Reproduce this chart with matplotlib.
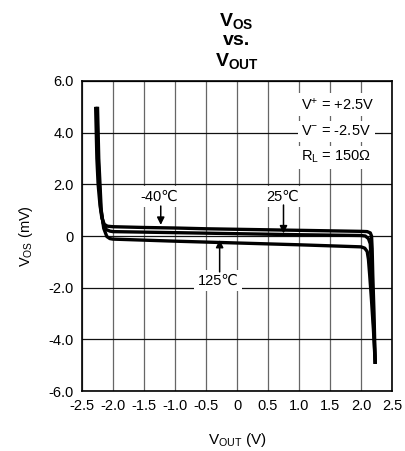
import matplotlib
matplotlib.use("Agg")
import matplotlib.pyplot as plt

plt.rcParams['font.family'] = ['Liberation Sans', 'DejaVu Sans']
plt.rcParams['mathtext.fontset'] = 'custom'
plt.rcParams['mathtext.rm'] = 'Liberation Sans'
plt.rcParams['mathtext.it'] = 'Liberation Sans:italic'
plt.rcParams['mathtext.bf'] = 'Liberation Sans:bold'

#%% data
x_m40 = [-2.28, -2.27, -2.26, -2.24, -2.21, -2.18, -2.14, -2.09, -2.0, -1.5, -1.0, -0.5, 0.0, 0.5, 1.0, 1.5, 2.0, 2.10, 2.15, 2.17, 2.18, 2.19, 2.21, 2.23]
y_m40 = [5.0, 4.0, 3.0, 2.0, 1.2, 0.7, 0.45, 0.38, 0.36, 0.33, 0.31, 0.28, 0.26, 0.24, 0.22, 0.20, 0.18, 0.17, 0.12, 0.0, -0.5, -1.5, -3.0, -4.95]

x_25 = [-2.26, -2.25, -2.24, -2.22, -2.20, -2.16, -2.11, -2.05, -2.0, -1.0, 0.0, 1.0, 2.0, 2.07, 2.12, 2.15, 2.16, 2.18, 2.20, 2.23]
y_25 = [5.0, 4.0, 3.0, 2.0, 1.1, 0.5, 0.25, 0.19, 0.17, 0.13, 0.09, 0.05, 0.02, 0.0, -0.1, -0.3, -0.8, -1.8, -3.2, -4.95]

x_125 = [-2.25, -2.24, -2.23, -2.21, -2.19, -2.15, -2.10, -2.05, -2.0, -1.0, 0.0, 1.0, 2.0, 2.06, 2.10, 2.12, 2.14, 2.17, 2.20, 2.23]
y_125 = [5.0, 4.0, 3.0, 2.0, 1.0, 0.3, -0.02, -0.10, -0.12, -0.20, -0.27, -0.34, -0.42, -0.47, -0.6, -0.9, -1.5, -2.5, -3.6, -4.95]

xticks = [-2.5, -2.0, -1.5, -1.0, -0.5, 0.0, 0.5, 1.0, 1.5, 2.0, 2.5]
xticklabels = ['-2.5', '-2.0', '-1.5', '-1.0', '-0.5', '0', '0.5', '1.0', '1.5', '2.0', '2.5']
yticks = [-6.0, -4.0, -2.0, 0.0, 2.0, 4.0, 6.0]
yticklabels = ['-6.0', '-4.0', '-2.0', '0', '2.0', '4.0', '6.0']

conditions = [r'$\mathrm{V^{+}}$ = +2.5V', r'$\mathrm{V^{-}}$ = -2.5V', r'$\mathrm{R_L}$ = 150Ω']
cond_y = [5.1, 4.05, 3.05]

#%% figure
fig = plt.figure(figsize=(4.06, 4.51), dpi=100)
ax = fig.add_axes([0.202, 0.133, 0.7635, 0.6874])

for xs, ys in [(x_m40, y_m40), (x_25, y_25), (x_125, y_125)]:
    ax.plot(xs, ys, color='black', lw=2.4, solid_capstyle='butt', solid_joinstyle='round', zorder=3)

ax.set_xlim(-2.5, 2.5)
ax.set_ylim(-6.0, 6.0)
ax.set_xticks(xticks)
ax.set_xticklabels(xticklabels)
ax.set_yticks(yticks)
ax.set_yticklabels(yticklabels)
ax.tick_params(length=0, labelsize=10.5, colors='black')
ax.tick_params(axis='x', pad=6)
ax.tick_params(axis='y', pad=6)
ax.xaxis.grid(True, color='#666666', lw=0.9)
ax.yaxis.grid(True, color='#111111', lw=0.9)
ax.set_axisbelow(True)
for s in ax.spines.values():
    s.set_linewidth(1.2)

ax.set_xlabel(r'$\mathrm{V_{OUT}}$ (V)', fontsize=11, labelpad=13)
ax.set_ylabel(r'$\mathrm{V_{OS}}$ (mV)', fontsize=10.5, labelpad=10)

# title, three lines
fig.text(0.583, 0.942, r'$\mathbf{V_{OS}}$', fontsize=14, ha='center', va='baseline')
fig.text(0.583, 0.900, 'vs.', fontsize=14, fontweight='bold', ha='center', va='baseline')
fig.text(0.583, 0.853, r'$\mathbf{V_{OUT}}$', fontsize=14, ha='center', va='baseline')

# test conditions
box = dict(facecolor='white', edgecolor='none', pad=2.5)
for txt, yy in zip(conditions, cond_y):
    ax.text(1.04, yy, txt, fontsize=10.5, ha='left', va='center', bbox=box, zorder=2)

# temperature labels
arrow = dict(arrowstyle='-|>', color='black', lw=1.1, mutation_scale=11, shrinkA=0, shrinkB=0)
ax.annotate('', xy=(-1.23, 0.43), xytext=(-1.23, 1.16), arrowprops=arrow, zorder=4)
ax.annotate('', xy=(0.75, 0.10), xytext=(0.75, 1.20), arrowprops=arrow, zorder=4)
ax.annotate('', xy=(-0.28, -0.15), xytext=(-0.28, -1.39), arrowprops=arrow, zorder=4)
ax.text(-1.26, 1.52, '-40℃', fontsize=10.5, ha='center', va='center', bbox=box, zorder=2)
ax.text(0.73, 1.52, '25℃', fontsize=10.5, ha='center', va='center', bbox=box, zorder=2)
ax.text(-0.31, -1.72, '125℃', fontsize=10.5, ha='center', va='center', bbox=box, zorder=2)

fig.savefig('out.png', dpi=100)
